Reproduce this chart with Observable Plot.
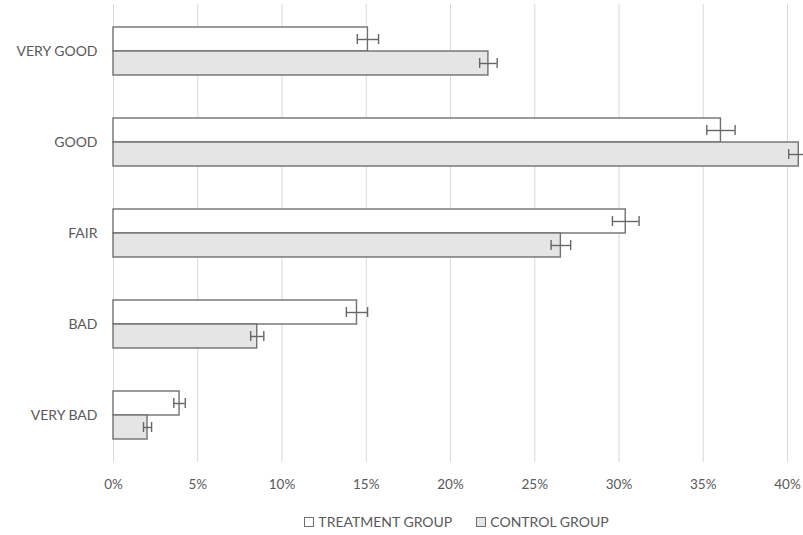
<!DOCTYPE html>
<html>
<head>
<meta charset="utf-8">
<script src="https://cdn.jsdelivr.net/npm/d3@7"></script>
<script src="https://cdn.jsdelivr.net/npm/@observablehq/plot@0.6"></script>
<style>
  body { margin: 0; background: #fff; font-family: Lato, "Open Sans", sans-serif; }
  #legend { display: flex; justify-content: center; gap: 24px; font-size: 14px; color: #595959; margin-top: 13px; padding-left: 110px; }
  #legend span { display: inline-flex; align-items: center; }
  #legend i { display: inline-block; width: 8px; height: 8px; border: 1.3px solid #707070; margin-right: 4px; }
  svg g[aria-label="y-axis tick label"] text { font-size: 14px; }
</style>
</head>
<body>
<div id="chart"></div>
<div id="legend"></div>
<script>
const categories = ["VERY GOOD", "GOOD", "FAIR", "BAD", "VERY BAD"];
const treatment = [15.1, 36.05, 30.4, 14.45, 3.92];
const treatmentErr = [0.63, 0.84, 0.79, 0.63, 0.34];
const control = [22.25, 40.67, 26.55, 8.53, 2.02];
const controlErr = [0.52, 0.6, 0.58, 0.39, 0.24];
const xTicks = [0, 5, 10, 15, 20, 25, 30, 35, 40];
const seriesNames = ["TREATMENT GROUP", "CONTROL GROUP"];
const seriesFill = ["#ffffff", "#e5e5e5"];

const tData = categories.map((c, i) => ({cat: c, v: treatment[i], e: treatmentErr[i]}));
const cData = categories.map((c, i) => ({cat: c, v: control[i], e: controlErr[i]}));

const stroke = "#707070";
const chart = Plot.plot({
  width: 803,
  height: 500,
  marginLeft: 113,
  marginRight: 16,
  marginTop: 4,
  marginBottom: 38,
  style: {fontFamily: "Lato, 'Open Sans', sans-serif", fontSize: "13.5px", color: "#595959", background: "#fff"},
  x: {domain: [0, 40], ticks: xTicks, tickFormat: d => d + "%", tickSize: 0, tickPadding: 17, label: null},
  y: {domain: categories, paddingInner: 0.476, paddingOuter: 0.24, tickSize: 0, tickPadding: 16, label: null},
  marks: [
    Plot.ruleX(xTicks, {stroke: "#d9d9d9", strokeWidth: 1}),
    Plot.barX(tData, {x: "v", y: "cat", fill: seriesFill[0], stroke, strokeWidth: 1.4, insetBottom: 24}),
    Plot.barX(cData, {x: "v", y: "cat", fill: seriesFill[1], stroke, strokeWidth: 1.4, insetTop: 24}),
    Plot.ruleY(tData, {y: "cat", x1: d => d.v - d.e, x2: d => d.v + d.e, dy: -12, stroke: "#666", strokeWidth: 1.4}),
    Plot.ruleY(cData, {y: "cat", x1: d => d.v - d.e, x2: d => d.v + d.e, dy: 12, stroke: "#666", strokeWidth: 1.4}),
    Plot.tickX(tData, {x: d => d.v - d.e, y: "cat", insetTop: 7, insetBottom: 31, stroke: "#666", strokeWidth: 1.4}),
    Plot.tickX(tData, {x: d => d.v + d.e, y: "cat", insetTop: 7, insetBottom: 31, stroke: "#666", strokeWidth: 1.4}),
    Plot.tickX(cData, {x: d => d.v - d.e, y: "cat", insetTop: 31, insetBottom: 7, stroke: "#666", strokeWidth: 1.4}),
    Plot.tickX(cData, {x: d => d.v + d.e, y: "cat", insetTop: 31, insetBottom: 7, stroke: "#666", strokeWidth: 1.4})
  ]
});
document.getElementById("chart").appendChild(chart);

const legend = document.getElementById("legend");
seriesNames.forEach((n, i) => {
  const s = document.createElement("span");
  const sw = document.createElement("i");
  sw.style.background = seriesFill[i];
  s.appendChild(sw);
  s.appendChild(document.createTextNode(n));
  legend.appendChild(s);
});
</script>
</body>
</html>
